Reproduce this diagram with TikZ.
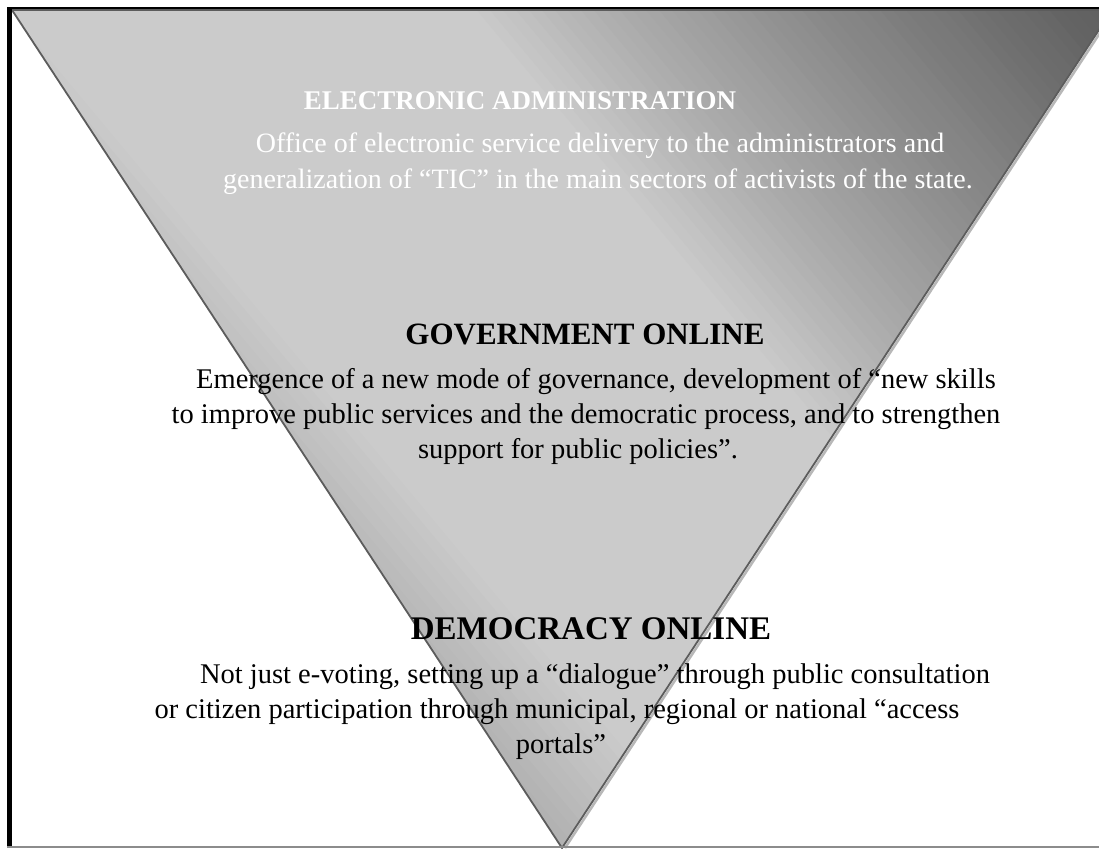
\documentclass[tikz,border=0pt]{standalone}
\usepackage{fontspec}
\setmainfont{Liberation Serif}
\definecolor{edgec}{gray}{0.36}
\definecolor{shadowc}{gray}{0.72}
\definecolor{framebot}{gray}{0.55}
\begin{document}
\begin{tikzpicture}[x=1pt,y=-1pt,
  txt/.style={inner sep=0pt, anchor=base},
  body/.style={txt, font=\fontsize{28.5}{34}\selectfont},
  topbody/.style={txt, font=\fontsize{28}{33}\selectfont},
  head/.style={txt, font=\fontsize{#1}{36}\selectfont\bfseries},
  light/.style={text=white}]
\useasboundingbox (0,0) rectangle (1099,848);
\coordinate (tl) at (12,10);
\coordinate (tr) at (1112,10);
\coordinate (ap) at (562,848);

% shaded inverted triangle, banded along a diagonal axis
\begin{scope}
  \clip (tl) -- (tr) -- (ap) -- cycle;
  \foreach \p in {-320,-310,...,920} {
    \pgfmathsetmacro\g{ifthenelse(\p<0, max(170,203+0.23*(\p)),
      ifthenelse(\p<350, 203,
      ifthenelse(\p<450, 203-0.28*(\p-350),
      ifthenelse(\p<600, 175-0.23*(\p-450),
      ifthenelse(\p<800, 140.5-0.2*(\p-600), max(90,100.5-0.1*(\p-800)))))))}
    \pgfmathsetmacro\gg{\g/255}
    \definecolor{band}{gray}{\gg}
    \pgfmathsetmacro\qa{\p}
    \pgfmathsetmacro\qb{\p+11}
    \fill[band] ({\qa*0.768-1500*0.64},{-(\qa)*0.64-1500*0.768})
      -- ({\qb*0.768-1500*0.64},{-(\qb)*0.64-1500*0.768})
      -- ({\qb*0.768+1500*0.64},{-(\qb)*0.64+1500*0.768})
      -- ({\qa*0.768+1500*0.64},{-(\qa)*0.64+1500*0.768}) -- cycle;
  }
\end{scope}

% outline with a light offset edge on the right side
\draw[shadowc, line width=2.5pt] ([xshift=3pt]tr) -- ([xshift=3pt]ap);
\draw[edgec, line width=1.8pt, line join=miter] (tl) -- (tr) -- (ap) -- cycle;
\draw[edgec, line width=2.5pt] (tl) -- (tr);

% page frame
\draw[black, line width=2pt] (7,8) -- (1099,8);
\fill[black] (7,7) rectangle (12,848);
\draw[framebot, line width=1.5pt] (7,847) -- (1099,847);

% electronic administration
\node[head=27, light] (ea) at (520,110) {ELECTRONIC ADMINISTRATION};
\node[topbody, light] (ea1) at (600,152) {Office of electronic service delivery to the administrators and};
\node[topbody, light] (ea2) at (598,188) {generalization of “TIC” in the main sectors of activists of the state.};

% government online
\node[head=31] (go) at (585,344) {GOVERNMENT ONLINE};
\node[body] (go1) at (596,388) {Emergence of a new mode of governance, development of “new skills};
\node[body] (go2) at (586,423) {to improve public services and the democratic process, and to strengthen};
\node[body] (go3) at (578,458) {support for public policies”.};

% democracy online
\node[head=33] (do) at (591,639) {DEMOCRACY ONLINE};
\node[body] (do1) at (595,683) {Not just e-voting, setting up a “dialogue” through public consultation};
\node[body] (do2) at (557,718) {or citizen participation through municipal, regional or national “access};
\node[body] (do3) at (561,753) {portals”};
\end{tikzpicture}
\end{document}
